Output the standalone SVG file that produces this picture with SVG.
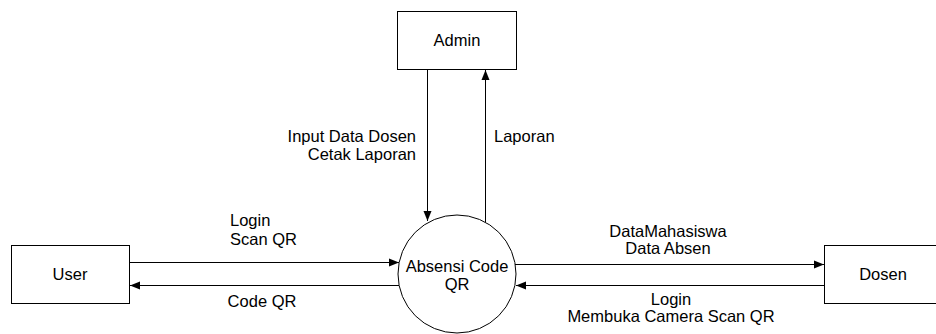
<svg xmlns="http://www.w3.org/2000/svg" width="936" height="334" viewBox="0 0 936 334">
<style>
.box{fill:#fff;stroke:#000;stroke-width:1}
.t{font-family:"Liberation Sans",Arial,sans-serif;font-size:16.5px;fill:#000}
.m{text-anchor:middle}
.e{text-anchor:end}
.c{stroke:#000;stroke-width:1;fill:none;marker-end:url(#ah)}
</style>
<defs>
<marker id="ah" viewBox="0 0 10 10" refX="10" refY="5" markerWidth="10" markerHeight="10" markerUnits="userSpaceOnUse" orient="auto">
<path d="M0,1 L10,5 L0,9 Z" fill="#000"/>
</marker>
</defs>
<rect width="936" height="334" fill="#fff"/>
<g id="admin">
<rect class="box" x="397.5" y="11.5" width="119" height="58"/>
<text class="t m" x="457" y="46">Admin</text>
</g>
<g id="user">
<rect class="box" x="11.5" y="245.5" width="118" height="58"/>
<text class="t m" x="70" y="280">User</text>
</g>
<g id="dosen">
<rect class="box" x="824.5" y="245.5" width="118" height="58"/>
<text class="t m" x="883" y="280">Dosen</text>
</g>
<g id="absensi">
<circle class="box" cx="457" cy="274" r="59"/>
<text class="t m" x="457" y="272">Absensi Code</text>
<text class="t m" x="457" y="290">QR</text>
</g>
<g id="connectors">
<line class="c" x1="427.5" y1="69" x2="427.5" y2="221"/>
<line class="c" x1="485.5" y1="222" x2="485.5" y2="70"/>
<line class="c" x1="129" y1="262.5" x2="399" y2="262.5"/>
<line class="c" x1="399" y1="285.5" x2="130" y2="285.5"/>
<line class="c" x1="515" y1="264.5" x2="824" y2="264.5"/>
<line class="c" x1="824" y1="285.5" x2="516" y2="285.5"/>
</g>
<g id="labels">
<text class="t e" x="416" y="142">Input Data Dosen</text>
<text class="t e" x="416" y="160">Cetak Laporan</text>
<text class="t" x="494" y="142">Laporan</text>
<text class="t" x="230" y="226">Login</text>
<text class="t" x="230" y="245">Scan QR</text>
<text class="t m" x="262" y="307">Code QR</text>
<text class="t m" x="668" y="237">DataMahasiswa</text>
<text class="t m" x="668" y="254">Data Absen</text>
<text class="t m" x="671" y="305">Login</text>
<text class="t m" x="671" y="322">Membuka Camera Scan QR</text>
</g>
</svg>
